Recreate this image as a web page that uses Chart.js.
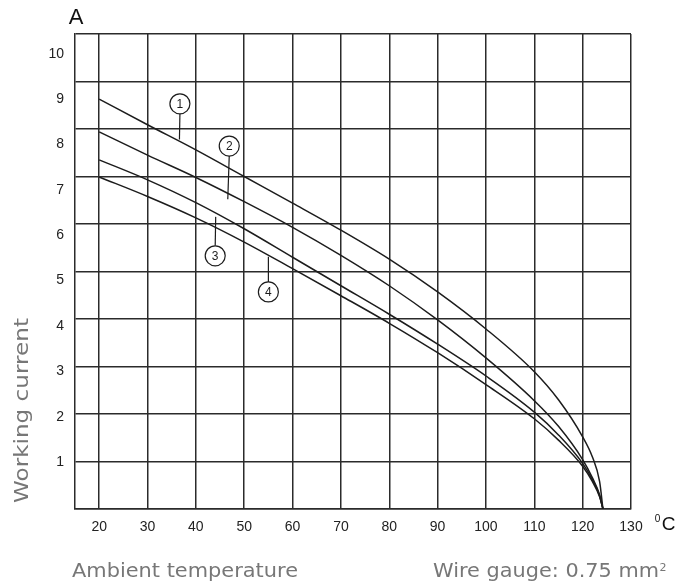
<!DOCTYPE html>
<html>
<head>
<meta charset="utf-8">
<script src="https://cdn.jsdelivr.net/npm/chart.js@4.4.1/dist/chart.umd.min.js"></script>
<style>
  body { margin: 0; background: #fff; }
  #wrap { width: 691px; height: 582px; position: relative; }
</style>
</head>
<body>
<div id="wrap"><canvas id="deratingChart"></canvas></div>
<script>
// Data (wire gauge 0.75 mm2)
const temps = [20, 30, 40, 50, 60, 70, 80, 90, 100, 110, 115, 120, 122, 123.5, 124.2];
const curve1 = [8.63, 8.09, 7.56, 7.0, 6.44, 5.87, 5.26, 4.57, 3.79, 2.89, 2.3, 1.52, 1.1, 0.58, 0];
const curve2 = [7.94, 7.45, 6.98, 6.47, 5.93, 5.34, 4.70, 3.98, 3.18, 2.28, 1.74, 1.04, 0.66, 0.3, 0];
const curve3 = [7.35, 6.93, 6.45, 5.9, 5.3, 4.7, 4.1, 3.47, 2.8, 2.04, 1.56, 0.96, 0.62, 0.28, 0];
const curve4 = [6.99, 6.58, 6.13, 5.62, 5.06, 4.49, 3.91, 3.29, 2.62, 1.9, 1.45, 0.9, 0.58, 0.26, 0];

const xTicks = [20, 30, 40, 50, 60, 70, 80, 90, 100, 110, 120, 130];
const yGrid = [0, 1, 2, 3, 4, 5, 6, 7, 8, 9, 10];
const yLabels = [1, 2, 3, 4, 5, 6, 7, 8, 9, 10];

// circled curve numbers: circle centre and the point on the curve the leader goes to
const calloutNames = ["1", "2", "3", "4"];
const calloutCircle = [[36.7, 8.53], [46.9, 7.64], [44.0, 5.33], [55.0, 4.57]];
const calloutTarget = [[36.6, 7.78], [46.6, 6.52], [44.1, 6.15], [55.0, 5.31]];

const toPoints = (vals) => vals.map((v, i) => ({ x: temps[i], y: v }));

const lineStyle = {
  borderColor: "#1c1c1c",
  borderWidth: 1.5,
  pointRadius: 0,
  cubicInterpolationMode: "monotone",
  fill: false
};

// the original titles use a wide font, so stretch the text to its width
function wideText(ctx, text, x, y, width) {
  const w = ctx.measureText(text).width;
  ctx.save();
  ctx.translate(x, y);
  ctx.scale(width / w, 1);
  ctx.fillText(text, 0, 0);
  ctx.restore();
}

// Texts and callouts
const extras = {
  id: "extras",
  afterDatasetsDraw(chart) {
    const ctx = chart.ctx;
    const x = chart.scales.x, y = chart.scales.y;
    ctx.save();

    // callouts
    ctx.strokeStyle = "#1c1c1c";
    ctx.lineWidth = 1.2;
    ctx.font = "12px 'Liberation Sans', Arial, sans-serif";
    ctx.textAlign = "center";
    ctx.textBaseline = "middle";
    calloutNames.forEach((name, i) => {
      const cx = x.getPixelForValue(calloutCircle[i][0]);
      const cy = y.getPixelForValue(calloutCircle[i][1]);
      const tx = x.getPixelForValue(calloutTarget[i][0]);
      const ty = y.getPixelForValue(calloutTarget[i][1]);
      const r = 10;
      const dir = ty > cy ? 1 : -1;
      ctx.beginPath();
      ctx.moveTo(cx, cy + dir * r);
      ctx.lineTo(tx, ty);
      ctx.stroke();
      ctx.beginPath();
      ctx.arc(cx, cy, r, 0, Math.PI * 2);
      ctx.fillStyle = "#fff";
      ctx.fill();
      ctx.stroke();
      ctx.fillStyle = "#1c1c1c";
      ctx.fillText(name, cx, cy + 0.5);
    });

    // unit labels
    ctx.textBaseline = "alphabetic";
    ctx.fillStyle = "#111";
    ctx.font = "22px 'Liberation Sans', Arial, sans-serif";
    ctx.fillText("A", 76, 24);
    ctx.font = "10px 'Liberation Sans', Arial, sans-serif";
    ctx.fillText("0", 657.5, 522);
    ctx.font = "19px 'Liberation Sans', Arial, sans-serif";
    ctx.fillText("C", 668.5, 530);

    // grey titles
    ctx.fillStyle = "#777";
    ctx.textAlign = "left";
    ctx.font = "19px 'DejaVu Sans', sans-serif";
    wideText(ctx, "Ambient temperature", 72, 577, 226);
    wideText(ctx, "Wire gauge: 0.75 mm", 433, 577, 226);
    ctx.font = "11px 'DejaVu Sans', sans-serif";
    ctx.fillText("2", 659.5, 571);

    ctx.font = "20px 'DejaVu Sans', sans-serif";
    ctx.translate(28, 503);
    ctx.rotate(-Math.PI / 2);
    wideText(ctx, "Working current", 0, 0, 185);
    ctx.restore();
  }
};

new Chart(document.getElementById("deratingChart"), {
  type: "line",
  data: {
    datasets: [
      { label: "1", data: toPoints(curve1), ...lineStyle },
      { label: "2", data: toPoints(curve2), ...lineStyle },
      { label: "3", data: toPoints(curve3), ...lineStyle },
      { label: "4", data: toPoints(curve4), ...lineStyle }
    ]
  },
  options: {
    responsive: true,
    maintainAspectRatio: false,
    animation: false,
    layout: { padding: { top: 34, right: 60, left: 0, bottom: 0 } },
    plugins: {
      legend: { display: false },
      tooltip: { enabled: false }
    },
    scales: {
      x: {
        type: "linear",
        min: 15,
        max: 130,
        afterBuildTicks: (s) => { s.ticks = xTicks.map(v => ({ value: v })); },
        afterFit: (s) => { s.height = 73; },
        grid: { color: "#2b2b2b", lineWidth: 1.5, drawTicks: false },
        border: { color: "#2b2b2b", width: 1.5 },
        ticks: {
          padding: 10,
          color: "#222",
          font: { family: "'Liberation Sans', Arial, sans-serif", size: 14 },
          maxRotation: 0
        }
      },
      y: {
        min: 0,
        max: 10,
        afterBuildTicks: (s) => { s.ticks = yGrid.map(v => ({ value: v })); },
        afterFit: (s) => { s.width = 0; },
        grid: { color: "#2b2b2b", lineWidth: 1.5, drawTicks: false },
        border: { color: "#2b2b2b", width: 1.5 },
        ticks: { display: false }
      },
      yLab: {
        position: "left",
        min: -0.037,
        max: 10.44,
        afterBuildTicks: (s) => { s.ticks = yLabels.map(v => ({ value: v })); },
        afterFit: (s) => { s.width = 75; },
        grid: { display: false, drawTicks: false },
        border: { display: false },
        ticks: {
          padding: 11,
          color: "#222",
          font: { family: "'Liberation Sans', Arial, sans-serif", size: 14 }
        }
      }
    }
  },
  plugins: [extras]
});
</script>
</body>
</html>
